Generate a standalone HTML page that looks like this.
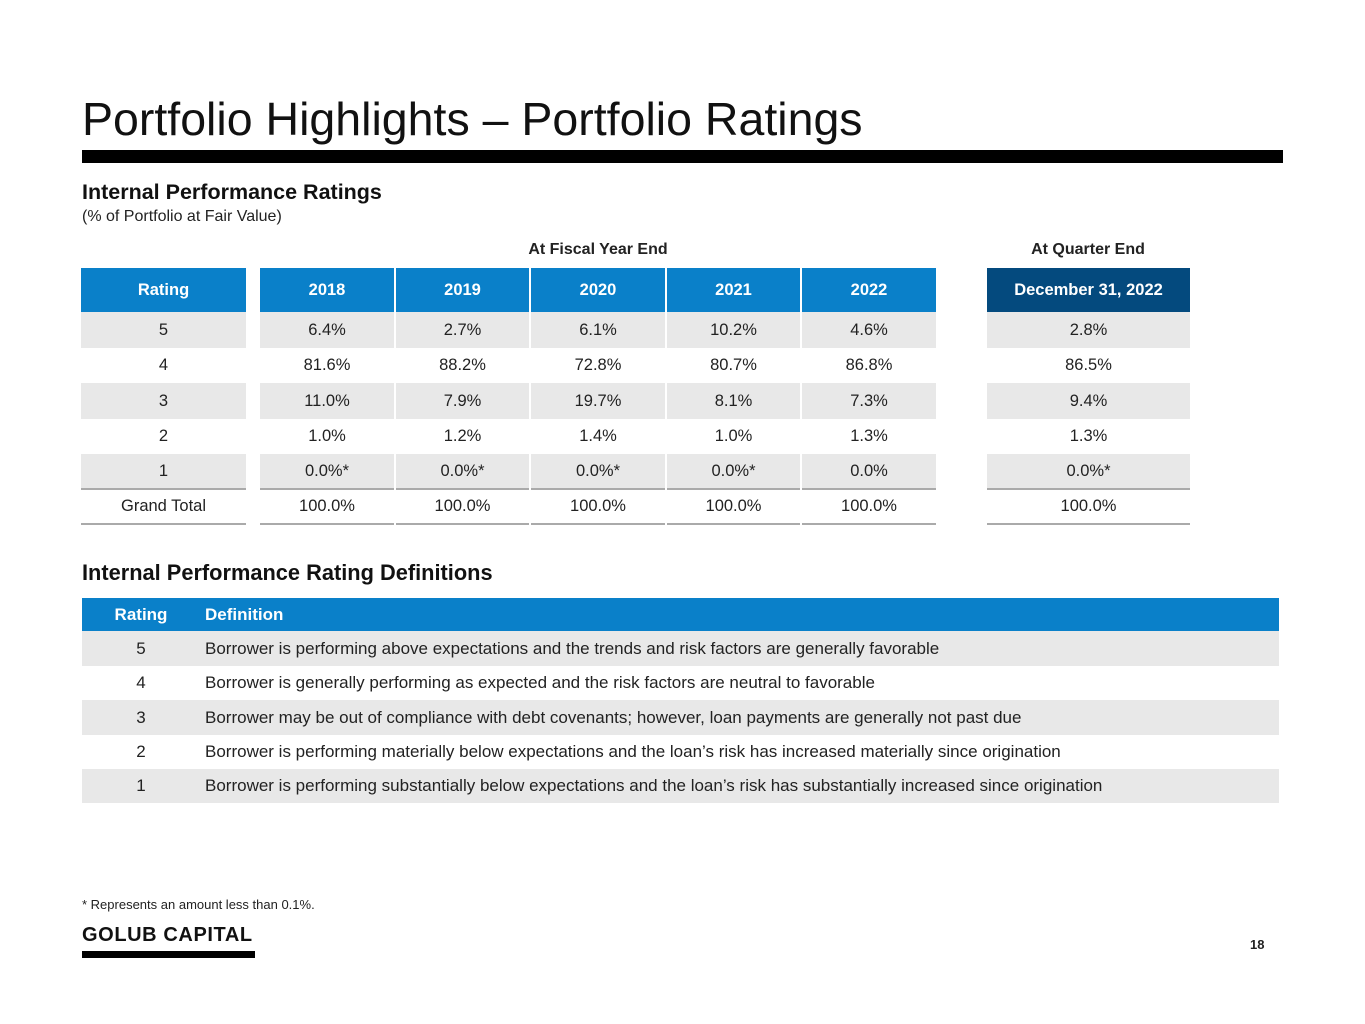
<!DOCTYPE html>
<html><head><meta charset="utf-8"><style>
body{margin:0;width:1365px;height:1024px;background:#fff;position:relative;font-family:"Liberation Sans",sans-serif;color:#222;overflow:hidden}
.a{position:absolute}
.c{text-align:center}
.cell{position:absolute;display:flex;align-items:center;justify-content:center;font-size:16.5px}
.hd{color:#fff;font-weight:bold}
</style></head><body>
<div class="a" style="left:82px;top:92px;font-size:46.5px;color:#111">Portfolio Highlights – Portfolio Ratings</div>
<div class="a" style="left:82px;top:150px;width:1201px;height:13px;background:#000"></div>
<div class="a" style="left:82px;top:180px;font-size:21.5px;font-weight:bold;color:#111">Internal Performance Ratings</div>
<div class="a" style="left:82px;top:208px;font-size:16px">(% of Portfolio at Fair Value)</div>
<div class="a c" style="left:498px;width:200px;top:241px;font-size:16px;font-weight:bold">At Fiscal Year End</div>
<div class="a c" style="left:988px;width:200px;top:241px;font-size:16px;font-weight:bold">At Quarter End</div>
<div id="rt"></div>
<div class="a" style="left:82px;top:560px;font-size:21.8px;font-weight:bold;color:#111">Internal Performance Rating Definitions</div>
<div id="dt"></div>
<div class="a" style="left:82px;top:897px;font-size:13px">* Represents an amount less than 0.1%.</div>
<div class="a" style="left:82px;top:924px;font-size:20px;font-weight:bold;letter-spacing:0.6px;color:#111">GOLUB CAPITAL</div>
<div class="a" style="left:82px;top:951px;width:173px;height:7px;background:#000"></div>
<div class="a" style="left:1250px;top:937px;font-size:13px;font-weight:bold">18</div>
<script>
const cols=[[81,165],[260,134],[396,133],[531,134],[667,133],[802,134],[987,203]];
const headers=["Rating","2018","2019","2020","2021","2022","December 31, 2022"];
const rows=[["5","6.4%","2.7%","6.1%","10.2%","4.6%","2.8%"],["4","81.6%","88.2%","72.8%","80.7%","86.8%","86.5%"],["3","11.0%","7.9%","19.7%","8.1%","7.3%","9.4%"],["2","1.0%","1.2%","1.4%","1.0%","1.3%","1.3%"],["1","0.0%*","0.0%*","0.0%*","0.0%*","0.0%","0.0%*"],["Grand Total","100.0%","100.0%","100.0%","100.0%","100.0%","100.0%"]];
const rt=document.getElementById('rt');
headers.forEach((h,i)=>{const d=document.createElement('div');d.className='cell hd';


d.style.cssText=`left:${cols[i][0]}px;width:${cols[i][1]}px;top:268px;height:44px;background:${i==6?'#044A7E':'#0A80C9'}`;d.textContent=h;rt.appendChild(d);});
const rowTops=[312,348,383,419,454,490];
rows.forEach((r,ri)=>{r.forEach((v,i)=>{const d=document.createElement('div');d.className='cell';


let bg=(ri%2==0&&ri<5)?'#E8E8E8':'#fff';
let bb=(ri>=4)?'border-bottom:2px solid #aaa;':'';
d.style.cssText=`left:${cols[i][0]}px;width:${cols[i][1]}px;top:${rowTops[ri]}px;height:${(ri<5?rowTops[ri+1]:525)-rowTops[ri]-(ri>=4?2:0)}px;background:${bg};${bb}`;d.textContent=v;rt.appendChild(d);});});
const defs=[["5","Borrower is performing above expectations and the trends and risk factors are generally favorable"],["4","Borrower is generally performing as expected and the risk factors are neutral to favorable"],["3","Borrower may be out of compliance with debt covenants; however, loan payments are generally not past due"],["2","Borrower is performing materially below expectations and the loan’s risk has increased materially since origination"],["1","Borrower is performing substantially below expectations and the loan’s risk has substantially increased since origination"]];
const dt=document.getElementById('dt');
function row(top,h,bg,a,b,color,bold,name){const d=document.createElement('div');d.className='a';


d.style.cssText=`left:82px;width:1197px;top:${top}px;height:${h}px;background:${bg};color:${color};font-size:17px;${bold?'font-weight:bold;':''}`;
d.innerHTML=`<div style="position:absolute;left:0;width:118px;text-align:center;top:50%;transform:translateY(-50%)">${a}</div><div style="position:absolute;left:123px;top:50%;transform:translateY(-50%);white-space:nowrap">${b}</div>`;dt.appendChild(d);}
row(598,33,'#0A80C9','Rating','Definition','#fff',true,'definitions-header');
const dTops=[631,666,700,735,769,803];
defs.forEach((r,i)=>row(dTops[i],dTops[i+1]-dTops[i],i%2==0?'#E8E8E8':'#fff',r[0],r[1],'#222',false,'definition-row-'+r[0]));
</script>
</body></html>
